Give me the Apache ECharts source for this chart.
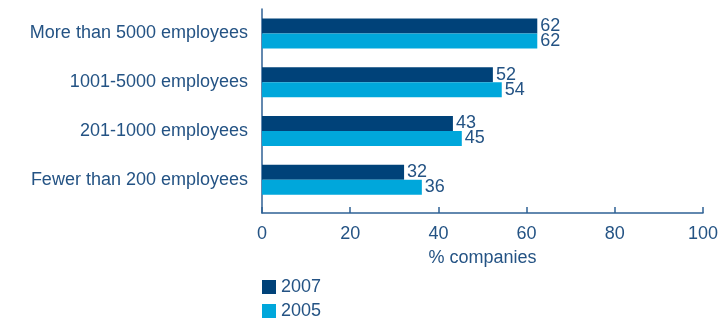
<!DOCTYPE html>
<html><head><meta charset="utf-8">
<script src="https://cdn.jsdelivr.net/npm/echarts@6/dist/echarts.min.js"></script>
<style>html,body{margin:0;padding:0;background:#fff}#c{width:721px;height:318px}</style>
</head><body><div id="c"></div>
<script>
const categories = ["More than 5000 employees","1001-5000 employees","201-1000 employees","Fewer than 200 employees"];
const series2007 = [62, 52, 43, 32];
const series2005 = [62, 54, 45, 36];
const xTicks = [0, 20, 40, 60, 80, 100];
const seriesNames = ["2007", "2005"];

const textColor = '#245384';
const axisColor = '#2f6195';
const font = 'Liberation Sans, Arial, sans-serif';
const fs = 18;
function legendFor(name, top){
  return {orient:'vertical', left:262, top:top, padding:0, itemWidth:14, itemHeight:14,
    icon:'rect', data:[name], selectedMode:false,
    textStyle:{fontSize:fs, lineHeight:14, color:textColor, fontFamily:font}};
}
const chart = echarts.init(document.getElementById('c'), null, {renderer:'canvas'});
chart.setOption({
  animation:false,
  textStyle:{fontFamily:font},
  grid:[
    {left:262, right:15, top:9, bottom:114},
    {left:262, right:15, top:9, bottom:105}
  ],
  legend:[legendFor(seriesNames[0], 278), legendFor(seriesNames[1], 302)],
  xAxis:[
    {gridIndex:0, type:'value', min:0, max:100, show:false},
    {gridIndex:1, type:'value', min:0, max:100, interval:20,
     axisLine:{show:true, lineStyle:{color:axisColor, width:1.5}},
     axisTick:{show:true, inside:true, length:6, lineStyle:{color:axisColor, width:1.5}},
     splitLine:{show:false},
     axisLabel:{fontSize:fs, color:textColor, margin:12, fontFamily:font,
       formatter:function(v){return xTicks.indexOf(v)>=0 ? String(v) : '';}},
     name:'% companies', nameLocation:'middle', nameGap:36,
     nameTextStyle:{fontSize:fs, color:textColor, fontFamily:font}}
  ],
  yAxis:[
    {gridIndex:0, type:'category', data:categories, inverse:true,
     axisLine:{show:false}, axisTick:{show:false},
     axisLabel:{fontSize:fs, color:textColor, margin:14, fontFamily:font}},
    {gridIndex:1, type:'value', min:0, max:1,
     axisLine:{show:true, lineStyle:{color:axisColor, width:1.5}},
     axisTick:{show:false}, axisLabel:{show:false}, splitLine:{show:false}}
  ],
  series:[
    {name:seriesNames[0], type:'bar', xAxisIndex:0, yAxisIndex:0, data:series2007,
     barWidth:15, barGap:'0%', itemStyle:{color:'#004279'},
     label:{show:true, position:'right', distance:3, fontSize:fs, color:textColor, fontFamily:font}},
    {name:seriesNames[1], type:'bar', xAxisIndex:0, yAxisIndex:0, data:series2005,
     barWidth:15, barGap:'0%', itemStyle:{color:'#00a7db'},
     label:{show:true, position:'right', distance:3, fontSize:fs, color:textColor, fontFamily:font}}
  ]
});
</script></body></html>
